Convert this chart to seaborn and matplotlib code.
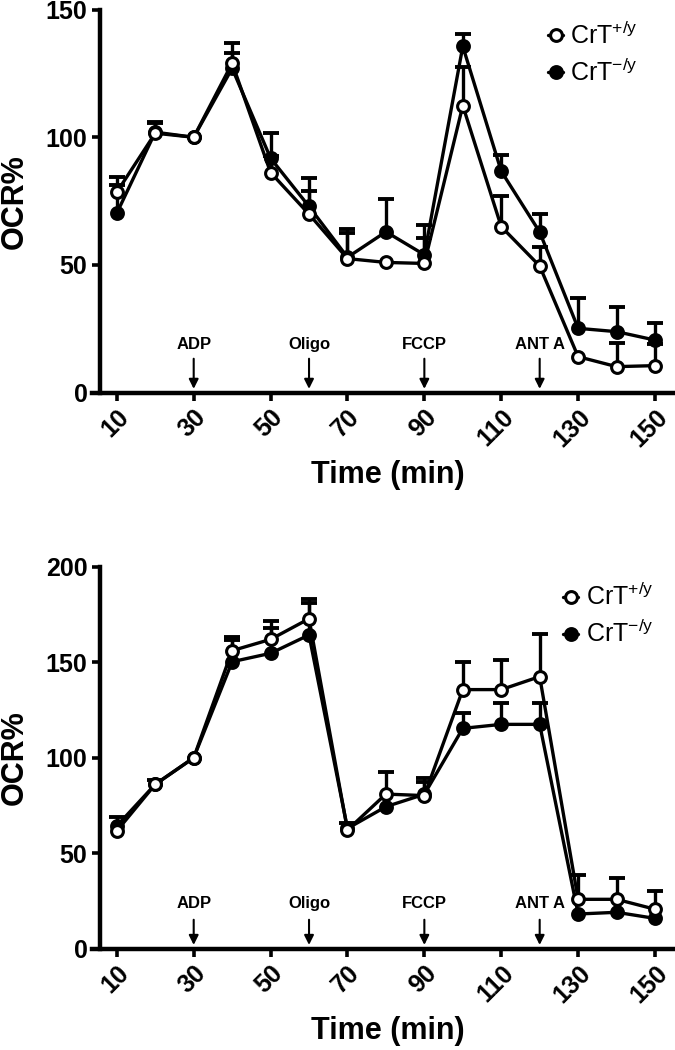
import numpy as np
import matplotlib
matplotlib.use("Agg")
import matplotlib.pyplot as plt
import seaborn as sns

# -----------------------------
# Data
# -----------------------------
time = [10, 20, 30, 40, 50, 60, 70, 80, 90, 100, 110, 120, 130, 140, 150]
xticks = [10, 30, 50, 70, 90, 110, 130, 150]

# top panel
wt_top = [78.5, 101.6, 100, 129, 86.2, 69.9, 52.5, 51, 50.6, 112.4, 65, 49.6, 14.1, 10.2, 10.6]
ko_top = [70.3, 102, 100, 127, 91.8, 72.9, 53, 63, 54, 135.6, 86.7, 62.9, 25.2, 23.9, 20.6]
wt_top_err = [3, 4, np.nan, 4, 6.5, 9, 10, np.nan, 10, 15, 12, 7.4, np.nan, 9.4, 8.6]
ko_top_err = [14, 4, np.nan, 10, 10, 11, 11, 13, 11.6, 5, 6.3, 7, 12, 9.6, 6.8]

# bottom panel
wt_bot = [61.7, 86.1, 100, 156.1, 162, 172.8, 62.2, 81, 80.2, 135.7, 135.7, 142.5, 25.9, 25.9, 20.7]
ko_bot = [64.3, 86.1, 100, 150.3, 154.7, 164.3, 63, 74.4, 80.9, 115.4, 117.5, 117.5, 18.2, 19.1, 15.9]
wt_bot_err = [np.nan, 2.5, np.nan, 7.3, 9.6, 10.2, 3.5, 11.4, 9.4, 14.6, 15.5, 22.1, 12.7, 11.3, 9.6]
ko_bot_err = [4.5, np.nan, np.nan, 11.4, 13.1, 16.9, np.nan, np.nan, 6.6, 8.2, 11, 11, np.nan, np.nan, np.nan]

# injections
inj_time = [30, 60, 90, 120]
inj_names = ["ADP", "Oligo", "FCCP", "ANT A"]

wt_label = r"CrT$^{\mathregular{+/y}}$"
ko_label = r"CrT$^{\mathregular{-/y}}$"

# -----------------------------
# Style
# -----------------------------
sns.set_style("ticks")
plt.rcParams["font.family"] = ["Liberation Sans", "DejaVu Sans"]
plt.rcParams["font.weight"] = "bold"
plt.rcParams["mathtext.fontset"] = "custom"
plt.rcParams["mathtext.rm"] = "Liberation Sans"
for key in ["axes.edgecolor", "axes.labelcolor", "text.color",
            "xtick.color", "ytick.color"]:
    plt.rcParams[key] = "black"


def draw_panel(ax, wt, ko, wt_err, ko_err, ymax, yticks, text_y, arrow_tail, legend_pos):
    t = np.array(time)
    for vals, err in [(ko, ko_err), (wt, wt_err)]:
        v = np.array(vals)
        e = np.array(err)
        ok = ~np.isnan(e)
        ax.vlines(t[ok], v[ok], v[ok] + e[ok], color="black", lw=2.4, zorder=2)
        ax.plot(t[ok], v[ok] + e[ok], ls="none", marker="_", ms=12, mew=2.8,
                color="black", zorder=2)

    sns.lineplot(x=time, y=ko, ax=ax, color="black", lw=2.4, marker="o", ms=8.5,
                 mfc="black", mec="black", mew=2.2, errorbar=None, zorder=3,
                 label=ko_label)
    sns.lineplot(x=time, y=wt, ax=ax, color="black", lw=2.4, marker="o", ms=8.5,
                 mfc="white", mec="black", mew=2.2, errorbar=None, zorder=4,
                 label=wt_label)

    for x, name in zip(inj_time, inj_names):
        ax.annotate("", xy=(x, ymax * 0.01), xytext=(x, arrow_tail),
                    arrowprops=dict(arrowstyle="-|>", color="black", lw=1.5,
                                    mutation_scale=14, shrinkA=0, shrinkB=0))
        ax.text(x, text_y, name, ha="center", va="center", fontsize=12,
                fontweight="bold")

    ax.set_xlim(5.6, 155.2)
    ax.set_ylim(0, ymax)
    ax.set_yticks(yticks)
    ax.set_xticks(xticks)
    ax.set_xticklabels([str(x) for x in xticks], rotation=45, ha="right",
                       va="top", rotation_mode="anchor")
    sns.despine(ax=ax)
    ax.spines["bottom"].set_bounds(3.5, 155.2)
    for s in ["left", "bottom"]:
        ax.spines[s].set_linewidth(3.2)
    ax.tick_params(axis="both", direction="out", length=6, width=2.6,
                   labelsize=18, pad=3)

    ax.set_xlabel("Time (min)", fontsize=22, fontweight="bold")
    ax.set_ylabel("OCR%", fontsize=22, fontweight="bold")
    ax.xaxis.set_label_coords(0.5, -0.175)
    ax.yaxis.set_label_coords(-0.122, 0.5)

    h, l = ax.get_legend_handles_labels()
    ax.legend([h[1], h[0]], [l[1], l[0]], loc="center left",
              bbox_to_anchor=legend_pos, bbox_transform=ax.figure.transFigure,
              frameon=False, borderpad=0, borderaxespad=0, handlelength=0.6,
              handletextpad=0.3, labelspacing=0.4,
              prop={"size": 18, "weight": "normal"})


# -----------------------------
# Figure
# -----------------------------
fig = plt.figure(figsize=(6.75, 10.5), dpi=100)
ax1 = fig.add_axes([0.148, 0.626, 0.852, 0.3649])
ax2 = fig.add_axes([0.148, 0.0964, 0.852, 0.3638])

draw_panel(ax1, wt_top, ko_top, wt_top_err, ko_top_err, 150, [0, 50, 100, 150],
           19, 13.3, (548 / 675, 0.949))
draw_panel(ax2, wt_bot, ko_bot, wt_bot_err, ko_bot_err, 200, [0, 50, 100, 150, 200],
           23.5, 15.2, (563 / 675, 0.414))

fig.savefig("out.png", dpi=100)
